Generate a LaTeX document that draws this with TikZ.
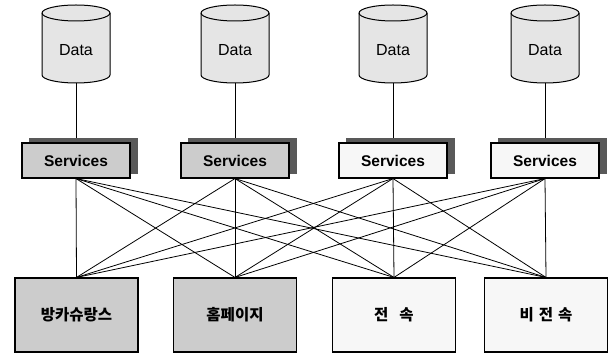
\documentclass[tikz,border=0pt]{standalone}
\usepackage{fontspec}
\setmainfont{Liberation Sans}
\newfontfamily\kr{Noto Sans CJK KR}
\definecolor{cylfill}{gray}{0.9}
\definecolor{boxgray}{gray}{0.8}
\definecolor{boxwhite}{gray}{0.97}
\definecolor{shade}{gray}{0.35}
\tikzset{
  conn/.style={line width=0.8pt},
  svc/.style={draw, line width=1.1pt, minimum width=108pt, minimum height=35pt, inner sep=0pt, font=\fontsize{15.5}{17}\selectfont\bfseries},
  svcshadow/.style={fill=shade, draw=shade, minimum width=108pt, minimum height=35pt, inner sep=0pt},
  dept/.style={draw, line width=1.1pt, minimum width=123pt, minimum height=74pt, inner sep=0pt, font=\fontsize{15.5}{17}\selectfont\kr\bfseries},
  datalbl/.style={font=\fontsize{16}{18}\selectfont, inner sep=0pt},
  cyl/.style={draw, line width=1pt, fill=cylfill}
}
\begin{document}
\begin{tikzpicture}[x=1pt,y=1pt]
\useasboundingbox[fill=white] (0,0) rectangle (613,356);
% cylinders
\foreach \cx/\n in {76/1,235/2,393/3,545/4}{
  \draw[cyl] (\cx-34,343) -- (\cx-34,281) arc[start angle=180,end angle=360,x radius=34,y radius=8]
     -- (\cx+34,343) arc[start angle=0,end angle=180,x radius=34,y radius=8] -- cycle;
  \draw[line width=1pt] (\cx-34,343) arc[start angle=180,end angle=360,x radius=34,y radius=8];
  \node[datalbl] (d\n) at (\cx,306) {Data};
  \coordinate (db\n) at (\cx,273);
}
% shadows
\node[svcshadow] (sh1) at (83,200.5) {};
\node[svcshadow] (sh2) at (242,200.5) {};
\node[svcshadow] (sh3) at (400,200.5) {};
\node[svcshadow] (sh4) at (552,200.5) {};
% data to services
\foreach \n in {1,2,3,4}{ \draw[conn] (db\n) -- (sh\n.north -| db\n); }
% services
\node[svc, fill=boxgray] (s1) at (76,195.5) {Services};
\node[svc, fill=boxgray] (s2) at (235,195.5) {Services};
\node[svc, fill=boxwhite] (s3) at (393,195.5) {Services};
\node[svc, fill=boxwhite] (s4) at (545,195.5) {Services};
% bottom boxes
\node[dept, fill=boxgray] (b1) at (76.5,41) {방카슈랑스};
\node[dept, fill=boxgray] (b2) at (235,41) {홈페이지};
\node[dept, fill=boxwhite] (b3) at (394,41) {전\hspace{11pt}속};
\node[dept, fill=boxwhite] (b4) at (546,41) {비\hspace{5pt}전\hspace{5pt}속};
% connections
\foreach \i in {1,2,3,4}{
  \foreach \j in {1,2,3,4}{
    \draw[conn] (s\i.south) -- (b\j.north);
  }
}
\end{tikzpicture}
\end{document}
